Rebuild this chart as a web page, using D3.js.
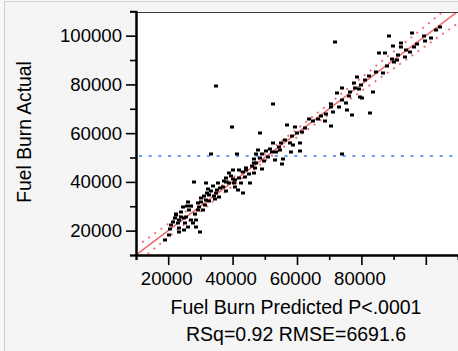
<!DOCTYPE html>
<html>
<head>
<meta charset="utf-8">
<script src="https://cdn.jsdelivr.net/npm/d3@7"></script>
<style>
  html, body { margin: 0; padding: 0; background: #ffffff; }
  svg { display: block; font-family: "Liberation Sans", Arial, sans-serif; }
</style>
</head>
<body>
<div id="chart"></div>
<script>
// Actual by Predicted: fuel burn
const predicted = [
  71700, 88700, 95800, 99300, 103200, 101700, 92200, 92200, 89700, 95200,
  85600, 87200, 91500, 93500, 89500, 90100, 86700, 78700, 77600, 79900,
  79200, 74000, 72500, 83500, 79700, 80300, 75100, 70600, 70600, 71100,
  75600, 77200, 82700, 63700, 65100, 68600, 70700, 34900, 52500, 39900,
  57000, 59400, 48600, 52700, 55100, 57700, 60800, 54400, 47800, 50400,
  53500, 58200, 60800, 33400, 41400, 47300, 50900, 46800, 49900, 53200,
  55800, 46800, 55400, 49200, 46500, 44200, 40100, 42100, 39000, 45000,
  43700, 40100, 38000, 35400, 31600, 27900, 39000, 37000, 40900, 41600,
  43200, 33400, 34900, 32800, 35900, 31800, 34400, 30300, 31300, 29700,
  29200, 30700, 26100, 24500, 22500, 24000, 22000, 25600, 23500, 27100,
  28700, 25100, 27600, 26100, 28700, 23500, 30000, 20400, 18900, 74000,
  45300, 22300,
  21000, 21600, 22900, 24100, 24800, 26600, 27200, 28200, 29400, 30300,
  31000, 31900, 32500, 33800, 34100, 35300, 36200, 37200, 38100, 39400,
  40300, 40900, 42100, 43100, 44300, 45900, 47400, 48400, 49000, 51500,
  52100, 56400, 58600, 59900, 61700, 62600, 66400, 67300, 68900, 72900,
  74100, 76000, 76600, 77900, 81000, 82500, 84400, 87800, 91200, 94000,
  96200, 97400, 99600, 104300, 23200, 24800, 20700, 25700, 32800, 37800,
  42500, 47100, 54600, 58900
]
const actual = [
  97300, 100000, 101200, 100000, 102400, 99200, 97100, 95500, 95900, 93400,
  92800, 92800, 92100, 91400, 90300, 89100, 84800, 82900, 80700, 79800,
  78000, 78600, 76600, 76800, 75000, 74400, 72200, 72000, 70600, 68800,
  69500, 67400, 68100, 65900, 65000, 65000, 62800, 79300, 72100, 62600,
  63300, 62600, 60200, 55800, 55800, 55800, 55800, 54400, 53100, 52700,
  52400, 52400, 52800, 51400, 51400, 51300, 50300, 49300, 48600, 49000,
  49300, 47900, 47200, 45200, 43800, 44900, 44900, 44900, 43500, 43200,
  42100, 41100, 40100, 39400, 39400, 40100, 39400, 38000, 38000, 36700,
  35600, 36300, 35300, 34600, 33900, 32600, 32900, 31900, 30500, 29600,
  28500, 28500, 31900, 29600, 26700, 25700, 25100, 25700, 24400, 24400,
  24400, 23000, 23000, 21600, 21600, 21000, 19600, 18200, 16200, 51400,
  39400, 26400,
  22300, 23500, 23100, 27600, 25200, 28500, 30100, 26800, 31300, 33400,
  34200, 35400, 37100, 38300, 34200, 36700, 37500, 40400, 41600, 42400,
  39500, 40800, 41600, 44100, 45700, 46500, 47700, 49800, 51400, 53500,
  52300, 57200, 58800, 60100, 60500, 62100, 65800, 67000, 67900, 70700,
  73600, 75200, 76900, 78500, 81800, 83400, 85100, 87500, 90000, 94100,
  95300, 96600, 97800, 103500, 19400, 20300, 20700, 30100, 32200, 36300,
  39500, 45700, 53100, 55100
]

// confidence curves around the fit (half width)
const bandX = [10000, 20000, 30000, 40000, 50000, 60000, 70000, 80000, 90000, 100000, 110000]
const bandHalf = [3430, 2760, 2150, 1690, 1500, 1690, 2150, 2760, 3430, 4140, 4870]

const meanActual = 50600

const xMajor = [20000, 40000, 60000, 80000, 100000]
const xMinor = [10000, 30000, 50000, 70000, 90000]
const xTickLabels = ['20000', '40000', '60000', '80000', '']
const yMajor = [20000, 40000, 60000, 80000, 100000]
const yMinor = [10000, 30000, 50000, 70000, 90000, 110000]
const yTickLabels = ['20000', '40000', '60000', '80000', '100000']

const width = 458
const height = 351

const svg = d3
  .select('#chart')
  .append('svg')
  .attr('width', width)
  .attr('height', height)

const x = d3.scaleLinear().domain([10000, 110000]).range([136, 458])
const y = d3.scaleLinear().domain([10000, 110000]).range([255, 11.3])

// panel background + border
svg.append('rect').attr('width', width).attr('height', height).attr('fill', '#f7f7f7')
svg
  .append('rect')
  .attr('x', 4.5)
  .attr('y', 1.5)
  .attr('width', width + 10)
  .attr('height', height + 10)
  .attr('fill', '#f5f5f5')
  .attr('stroke', '#cfcfcf')
  .attr('stroke-width', 1)

const plotW = x.range()[1] - x.range()[0]
const plotH = y.range()[0] - y.range()[1]

svg
  .append('rect')
  .attr('x', x.range()[0])
  .attr('y', y.range()[1])
  .attr('width', plotW + 5)
  .attr('height', plotH)
  .attr('fill', '#ffffff')

svg
  .append('clipPath')
  .attr('id', 'plot-clip')
  .append('rect')
  .attr('x', x.range()[0] + 1)
  .attr('y', y.range()[1] + 1)
  .attr('width', plotW + 5)
  .attr('height', plotH - 2)

const g = svg.append('g').attr('clip-path', 'url(#plot-clip)')

// mean of response
g.append('line')
  .attr('x1', x(10000) + 3)
  .attr('x2', x(110000) + 5)
  .attr('y1', y(meanActual))
  .attr('y2', y(meanActual))
  .attr('stroke', '#6a98f2')
  .attr('stroke-width', 2)
  .attr('stroke-dasharray', '3,6.7')

// confidence curves
const band = bandX.map((v, i) => ({ v, hw: bandHalf[i] }))
const curve = (sign) =>
  d3
    .line()
    .curve(d3.curveMonotoneX)
    .x((d) => x(d.v))
    .y((d) => y(d.v + sign * d.hw))

;[1, -1].forEach((sign) => {
  g.append('path')
    .datum(band)
    .attr('d', curve(sign))
    .attr('fill', 'none')
    .attr('stroke', '#f07480')
    .attr('stroke-width', 2)
    .attr('stroke-dasharray', '2,5.5')
})

// fit line (actual = predicted)
g.append('line')
  .attr('x1', x(10000))
  .attr('y1', y(10000))
  .attr('x2', x(110000))
  .attr('y2', y(110000))
  .attr('stroke', '#f0686e')
  .attr('stroke-width', 1.5)

// points
g.append('g')
  .selectAll('rect')
  .data(predicted.map((p, i) => ({ p, a: actual[i] })))
  .enter()
  .append('rect')
  .attr('x', (d) => Math.round(x(d.p)) - 2)
  .attr('y', (d) => Math.round(y(d.a)) - 1.5)
  .attr('width', 4)
  .attr('height', 3)
  .attr('fill', '#000000')

// frame top
svg
  .append('line')
  .attr('x1', x.range()[0])
  .attr('x2', width)
  .attr('y1', 12.5)
  .attr('y2', 12.5)
  .attr('stroke', '#3a3a3a')
  .attr('stroke-width', 1.2)

// axes
const yAxisMajor = d3
  .axisLeft(y)
  .tickValues(yMajor)
  .tickSize(10)
  .tickSizeOuter(0)
  .tickPadding(4)
  .tickFormat((d, i) => yTickLabels[i])
const yAxisMinor = d3.axisLeft(y).tickValues(yMinor).tickSize(6).tickFormat('')

const xAxisMajor = d3
  .axisBottom(x)
  .tickValues(xMajor)
  .tickSize(10)
  .tickSizeOuter(0)
  .tickPadding(7)
  .tickFormat((d, i) => xTickLabels[i])
const xAxisMinor = d3.axisBottom(x).tickValues(xMinor).tickSize(5).tickFormat('')

const yG = svg.append('g').attr('transform', `translate(${x.range()[0]},0)`)
yG.append('g').call(yAxisMinor)
yG.append('g').call(yAxisMajor)

const xG = svg.append('g').attr('transform', `translate(0,${y.range()[0]})`)
xG.append('g').call(xAxisMinor)
xG.append('g').call(xAxisMajor)

svg.selectAll('.domain').attr('stroke', '#000').attr('stroke-width', 2)
svg.selectAll('.tick line').attr('stroke', '#000').attr('stroke-width', 1.6)
svg
  .selectAll('.tick text')
  .attr('fill', '#000')
  .attr('font-size', '18.6px')
  .attr('font-family', '"Liberation Sans", Arial, sans-serif')
xG.selectAll('.tick text').attr('dx', -2)

// titles
svg
  .append('text')
  .attr('transform', 'translate(31,132) rotate(-90)')
  .attr('text-anchor', 'middle')
  .attr('font-size', '19.3px')
  .attr('fill', '#000')
  .text('Fuel Burn Actual')

svg
  .append('text')
  .attr('x', 296)
  .attr('y', 314)
  .attr('text-anchor', 'middle')
  .attr('font-size', '19.5px')
  .attr('fill', '#000')
  .text('Fuel Burn Predicted P<.0001')

svg
  .append('text')
  .attr('x', 296)
  .attr('y', 340.5)
  .attr('text-anchor', 'middle')
  .attr('font-size', '19.5px')
  .attr('fill', '#000')
  .text('RSq=0.92 RMSE=6691.6')
</script>
</body>
</html>
